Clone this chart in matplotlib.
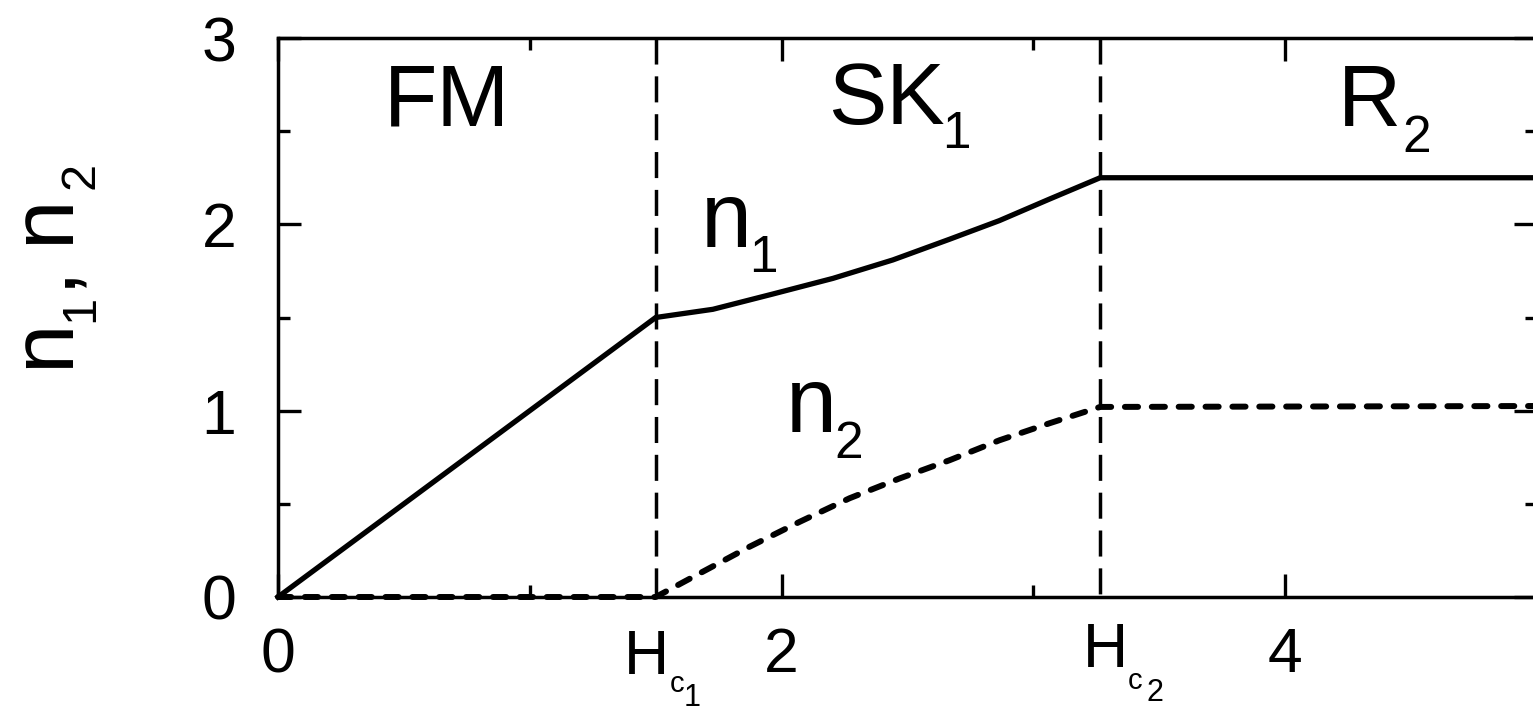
import matplotlib
matplotlib.use("Agg")
import matplotlib.pyplot as plt

plt.rcParams['font.family'] = ['Liberation Sans', 'DejaVu Sans']

# critical fields
Hc1 = 1.5
Hc2 = 3.265

# n1 curve (solid)
H_n1 = [0.0, 1.5, 1.727, 1.965, 2.204, 2.442, 2.667, 2.865, 3.063, 3.265, 5.0]
n1 = [0.0, 1.5, 1.544, 1.626, 1.71, 1.809, 1.92, 2.02, 2.135, 2.25, 2.25]

# n2 curve (dashed)
H_n2 = [0.0, 1.5, 1.675, 1.873, 2.071, 2.27, 2.468, 2.667, 2.865, 3.063, 3.265, 5.0]
n2 = [0.0, 0.0, 0.127, 0.27, 0.403, 0.53, 0.636, 0.734, 0.841, 0.932, 1.02, 1.025]

x_major = [0, 2, 4]
x_minor = [1, 3, 5]
y_major = [0, 1, 2, 3]
y_minor = [0.5, 1.5, 2.5]


def put(ax, xy, coords, pieces, rotation=0):
    # pieces: (text, size, shift along text, drop below) in pixels
    for s, size, along, drop in pieces:
        if rotation == 90:
            off = (drop, along)
        else:
            off = (along, -drop)
        ax.annotate(s, xy=xy, xycoords=coords, xytext=off,
                    textcoords='offset pixels', fontsize=size,
                    ha='left', va='baseline', rotation=rotation,
                    rotation_mode='anchor', annotation_clip=False)


fig = plt.figure(figsize=(15.33, 7.10), dpi=100)
ax = fig.add_axes([278 / 1533, 113 / 710, 1259 / 1533, 559 / 710])

ax.plot(H_n1, n1, color='black', lw=3.8, solid_joinstyle='miter', clip_on=False, zorder=4)
ax.plot(H_n2, n2, color='black', lw=4.3, dashes=(2.2, 2.3), dash_capstyle='round',
        clip_on=False, zorder=4)
for hc in (Hc1, Hc2):
    ax.axvline(hc, ymin=1, ymax=0, color='black', lw=2.5, dashes=(7.5, 3.4), zorder=3)

ax.set_xlim(0, 5)
ax.set_ylim(0, 3)
ax.set_xticks(x_major)
ax.set_xticks(x_minor, minor=True)
ax.set_yticks(y_major)
ax.set_yticks(y_minor, minor=True)
ax.set_xticklabels([str(v) for v in x_major])
ax.set_yticklabels([str(v) for v in y_major])

ax.tick_params(which='both', direction='in', top=True, right=True, width=2.4, color='black')
ax.tick_params(which='major', length=16.5)
ax.tick_params(which='minor', length=8.5)
ax.tick_params(axis='x', which='major', labelsize=45, pad=21)
ax.tick_params(axis='y', which='major', labelsize=45, pad=30)
for sp in ax.spines.values():
    sp.set_linewidth(2.5)

# critical field labels under the axis
xt = ax.get_xaxis_transform()
put(ax, (Hc1, 0), xt, [('H', 45, -32, 77), ('c', 21, 14, 95), ('1', 22, 28, 109)])
put(ax, (Hc2, 0), xt, [('H', 45, -17, 70), ('c', 21, 28, 92), ('2', 22, 46, 104)])

# phase names
put(ax, (0.421, 2.533), 'data', [('FM', 63, 0, 0)])
put(ax, (2.183, 2.538), 'data', [('SK', 63, 0, 0), ('1', 37, 114, 24)])
put(ax, (4.21, 2.528), 'data', [('R', 63, 0, 0), ('2', 37, 64, 26)])

# curve labels
put(ax, (1.679, 1.878), 'data', [('n', 66, 0, 0), ('1', 37, 48, 25)])
put(ax, (2.016, 0.886), 'data', [('n', 66, 0, 0), ('2', 37, 49, 26)])

# y label
put(ax, (68, 710 - 368), 'figure pixels',
    [('n', 64, 0, 0), ('1', 35, 46, 25), (',', 64, 80, 0),
     ('n', 64, 124, 0), ('2', 35, 179, 25)], rotation=90)

fig.savefig('out.png', dpi=100)
